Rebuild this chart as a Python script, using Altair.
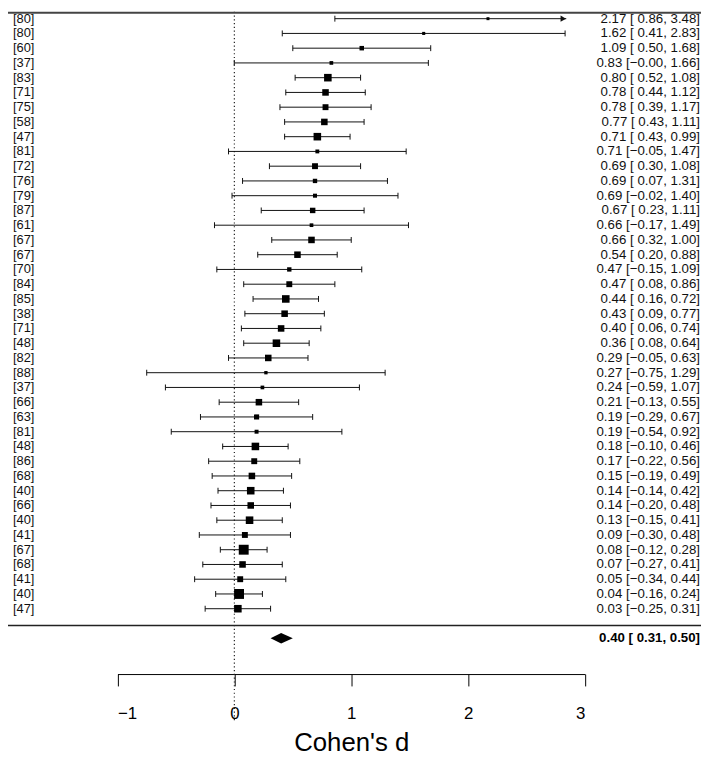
import altair as alt
import pandas as pd

# ---------------- data ----------------
labels = ["[80]", "[80]", "[60]", "[37]", "[83]", "[71]", "[75]", "[58]", "[47]", "[81]",
          "[72]", "[76]", "[79]", "[87]", "[61]", "[67]", "[67]", "[70]", "[84]", "[85]",
          "[38]", "[71]", "[48]", "[82]", "[88]", "[37]", "[66]", "[63]", "[81]", "[48]",
          "[86]", "[68]", "[40]", "[66]", "[40]", "[41]", "[67]", "[68]", "[41]", "[40]", "[47]"]
est = [2.17, 1.62, 1.09, 0.83, 0.80, 0.78, 0.78, 0.77, 0.71, 0.71,
       0.69, 0.69, 0.69, 0.67, 0.66, 0.66, 0.54, 0.47, 0.47, 0.44,
       0.43, 0.40, 0.36, 0.29, 0.27, 0.24, 0.21, 0.19, 0.19, 0.18,
       0.17, 0.15, 0.14, 0.14, 0.13, 0.09, 0.08, 0.07, 0.05, 0.04, 0.03]
lower = [0.86, 0.41, 0.50, -0.001, 0.52, 0.44, 0.39, 0.43, 0.43, -0.05,
         0.30, 0.07, -0.02, 0.23, -0.17, 0.32, 0.20, -0.15, 0.08, 0.16,
         0.09, 0.06, 0.08, -0.05, -0.75, -0.59, -0.13, -0.29, -0.54, -0.10,
         -0.22, -0.19, -0.14, -0.20, -0.15, -0.30, -0.12, -0.27, -0.34, -0.16, -0.25]
upper = [3.48, 2.83, 1.68, 1.66, 1.08, 1.12, 1.17, 1.11, 0.99, 1.47,
         1.08, 1.31, 1.40, 1.11, 1.49, 1.00, 0.88, 1.09, 0.86, 0.72,
         0.77, 0.74, 0.64, 0.63, 1.29, 1.07, 0.55, 0.67, 0.92, 0.46,
         0.56, 0.49, 0.42, 0.48, 0.41, 0.48, 0.28, 0.41, 0.44, 0.24, 0.31]
summary_est, summary_lb, summary_ub = 0.40, 0.31, 0.50
tick_values = [-1, 0, 1, 2, 3]
x_title = "Cohen's d"

# ---------------- layout constants (pixels / styling) ----------------
W, H = 700, 749
ROW_PX = 14.9
Y_MAX = 41 + 7 / ROW_PX
Y_MIN = Y_MAX - H / ROW_PX
CLIP = 2.84          # right clip of CI lines (arrow tip)
FONT = "Liberation Sans"
MINUS = "\u2212"

k = len(est)


def fmt(v):
    s = f"{abs(v):.2f}"
    return (MINUS + s) if v < 0 else s


def ann(e, l, u):
    lo = fmt(l)
    lo = lo if lo.startswith(MINUS) else " " + lo
    return f"{fmt(e)} [{lo}, {fmt(u)}]"


df = pd.DataFrame({"label": labels, "est": est, "lb": lower, "ub": upper})
df["row"] = [k - i for i in range(k)]
df["ann"] = [ann(e, l, u) for e, l, u in zip(est, lower, upper)]
df["clipped"] = df["ub"] > CLIP
df["ub_draw"] = df["ub"].clip(upper=CLIP)
df["cap_top"] = df["row"] + 0.2
df["cap_bot"] = df["row"] - 0.2
inv_se = 3.92 / (df["ub"] - df["lb"])
side = 3.0 + 7.0 * (inv_se - inv_se.min()) / (inv_se.max() - inv_se.min())
df["area"] = side ** 2
df["arrow_x"] = CLIP - 3.0 / 118.05

xscale = alt.Scale(domain=[-1, 3], range=[110.6, 582.8], nice=False, zero=False)
yscale = alt.Scale(domain=[Y_MIN, Y_MAX], nice=False, zero=False)
xaxis = alt.Axis(values=tick_values, offset=-80, tickSize=12, tickColor="black",
                 domainColor="black", tickWidth=1, domainWidth=1, grid=False,
                 labelFont=FONT, labelFontSize=17, labelColor="black", labelPadding=20,
                 title=x_title, titleFont=FONT, titleFontSize=26, titleFontWeight="normal",
                 titleColor="black", titlePadding=8, format="d")


def X(f):
    return alt.X(f, type="quantitative", scale=xscale, axis=xaxis)


def Y(f):
    return alt.Y(f, type="quantitative", scale=yscale, axis=None)


base = alt.Chart(df)

ci = base.mark_rule(color="#111", strokeWidth=1).encode(x=X("lb"), x2=alt.X2("ub_draw"), y=Y("row"))
cap_l = base.mark_rule(color="#111", strokeWidth=1).encode(x=X("lb"), y=Y("cap_top"), y2=alt.Y2("cap_bot"))
cap_r = base.transform_filter("!datum.clipped").mark_rule(color="#111", strokeWidth=1).encode(
    x=X("ub"), y=Y("cap_top"), y2=alt.Y2("cap_bot"))
arrow = base.transform_filter("datum.clipped").mark_point(
    shape="triangle-right", filled=True, color="#111", opacity=1, size=40).encode(
    x=X("arrow_x"), y=Y("row"))
squares = base.mark_point(shape="square", filled=True, color="black", opacity=1).encode(
    x=X("est"), y=Y("row"), size=alt.Size("area:Q", scale=None, legend=None))
left_txt = base.mark_text(align="left", baseline="middle", font=FONT, fontSize=13, color="#111").encode(
    x=alt.value(5), y=Y("row"), text="label:N")
right_txt = base.mark_text(align="right", baseline="middle", font=FONT, fontSize=13.4, color="#111").encode(
    x=alt.value(699), y=Y("row"), text="ann:N")

ref_df = pd.DataFrame({"x": [0.0]})
refline = alt.Chart(ref_df).mark_rule(color="#222", strokeWidth=1.2, strokeDash=[1.2, 2.6]).encode(
    x=X("x"), y=alt.value(0), y2=alt.value(717))

line_df = pd.DataFrame({"y": [-0.14]})
sep = alt.Chart(line_df).mark_rule(color="#222", strokeWidth=1.5).encode(
    x=alt.value(0), x2=alt.value(W), y=Y("y"))
top = alt.Chart(line_df).mark_rule(color="#444", strokeWidth=2).encode(
    x=alt.value(0), x2=alt.value(W), y=alt.value(1))

dia_df = pd.DataFrame({
    "x": [summary_lb, summary_est, summary_ub],
    "y1": [-1.0, -1.0 + 0.35, -1.0],
    "y2": [-1.0, -1.0 - 0.35, -1.0],
})
diamond = alt.Chart(dia_df).mark_area(color="black", orient="vertical", opacity=1).encode(
    x=X("x"), y=Y("y1"), y2=alt.Y2("y2"))

sum_df = pd.DataFrame({"ann": [f"{summary_est:.2f} [ {summary_lb:.2f}, {summary_ub:.2f}]"], "row": [-1.0]})
sum_txt = alt.Chart(sum_df).mark_text(align="right", baseline="middle", font=FONT, fontSize=13.4,
                                      fontWeight="bold", color="black").encode(
    x=alt.value(699), y=Y("row"), text="ann:N")

chart = alt.layer(refline, top, sep, ci, cap_l, cap_r, arrow, squares, diamond,
                  left_txt, right_txt, sum_txt).properties(
    width=W, height=H, autosize=alt.AutoSizeParams(type="none"), padding=0, background="white"
).configure_view(strokeWidth=0, stroke="transparent")

chart.save("out.html", embed_options={"renderer": "svg", "actions": False})
